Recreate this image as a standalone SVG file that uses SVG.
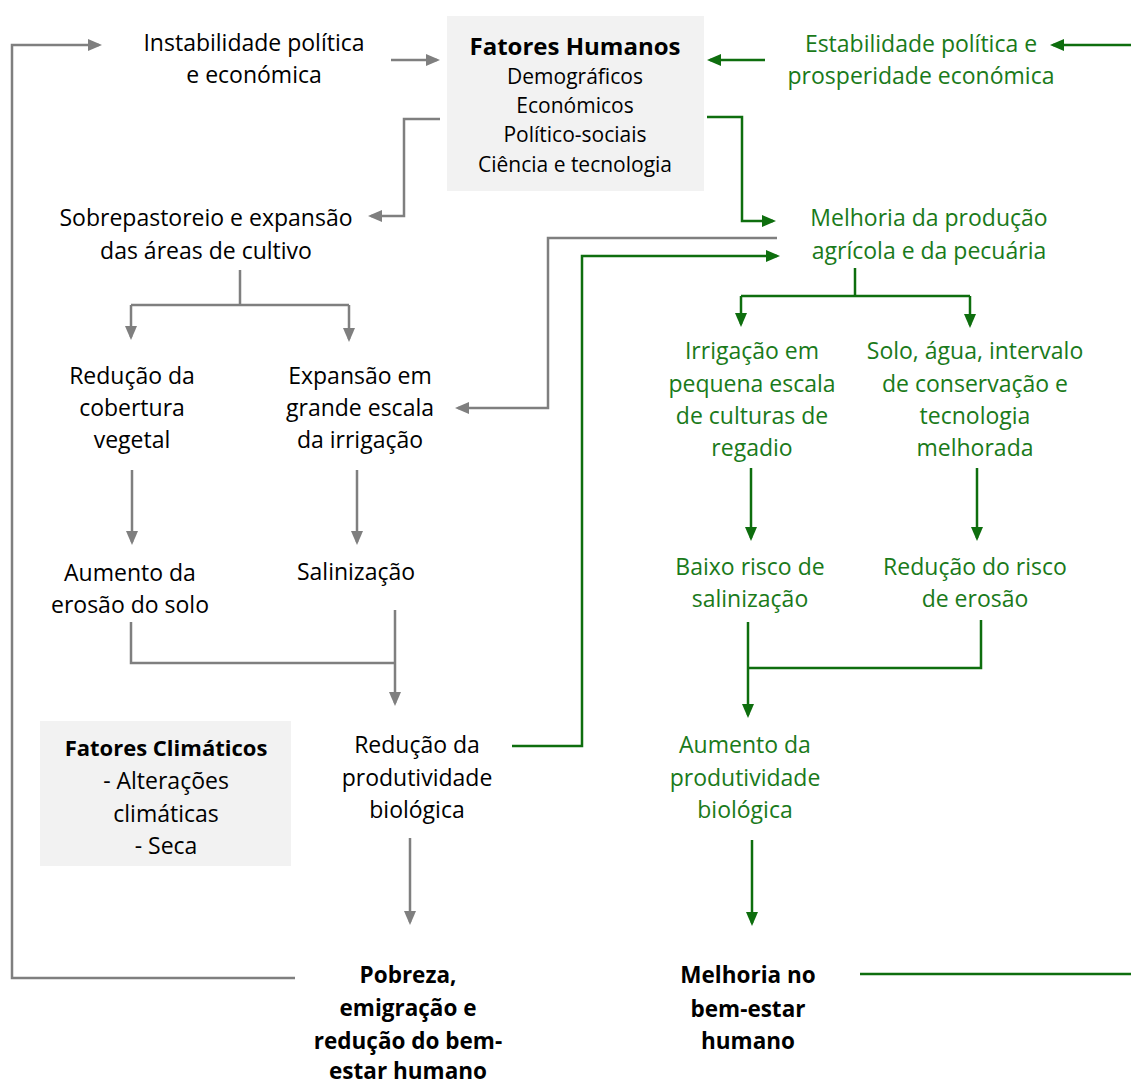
<svg xmlns="http://www.w3.org/2000/svg" width="1131" height="1081" viewBox="0 0 1131 1081">
<style>
text{font-family:"Open Sans","Liberation Sans",Arial,sans-serif;font-size:23px;text-anchor:middle;dominant-baseline:central}
.k{fill:#000}
.g{fill:#1a7a1a}
.b{font-weight:bold;font-size:22.5px}
.s{font-size:21px}
.t{font-size:24px}
.c{font-size:22px}
.gl{fill:none;stroke:#7f7f7f;stroke-width:2.5}
.gr{fill:none;stroke:#0e6e0e;stroke-width:2.5}
.box{fill:#f2f2f2}
</style>
<defs>
<marker id="ag" markerWidth="14" markerHeight="12" refX="11" refY="6" orient="auto" markerUnits="userSpaceOnUse"><path d="M0,0 L14,6 L0,12 z" fill="#7f7f7f"/></marker>
<marker id="an" markerWidth="14" markerHeight="12" refX="11" refY="6" orient="auto" markerUnits="userSpaceOnUse"><path d="M0,0 L14,6 L0,12 z" fill="#0e6e0e"/></marker>
</defs>
<g id="connectors">
<path class="gl" d="M295,978 H12 V45 H99" marker-end="url(#ag)"/>
<path class="gl" d="M391,60 H437" marker-end="url(#ag)"/>
<path class="gl" d="M440,119 H404 V216 H371" marker-end="url(#ag)"/>
<path class="gl" d="M777,238 H548 V408 H458" marker-end="url(#ag)"/>
<path class="gl" d="M240,270 V305"/>
<path class="gl" d="M131,305 H349"/>
<path class="gl" d="M131,305 V337" marker-end="url(#ag)"/>
<path class="gl" d="M349,305 V339" marker-end="url(#ag)"/>
<path class="gl" d="M132,470 V542" marker-end="url(#ag)"/>
<path class="gl" d="M357,470 V542" marker-end="url(#ag)"/>
<path class="gl" d="M131,622 V663 H395"/>
<path class="gl" d="M395,610 V703" marker-end="url(#ag)"/>
<path class="gl" d="M410,838 V922" marker-end="url(#ag)"/>
<path class="gr" d="M1131,45 H1053" marker-end="url(#an)"/>
<path class="gr" d="M765,60 H710" marker-end="url(#an)"/>
<path class="gr" d="M707,117 H742 V221 H773" marker-end="url(#an)"/>
<path class="gr" d="M512,746 H582 V256 H777" marker-end="url(#an)"/>
<path class="gr" d="M855,268 V296"/>
<path class="gr" d="M741,296 H970"/>
<path class="gr" d="M741,296 V324" marker-end="url(#an)"/>
<path class="gr" d="M970,296 V325" marker-end="url(#an)"/>
<path class="gr" d="M751,468 V538" marker-end="url(#an)"/>
<path class="gr" d="M977,468 V538" marker-end="url(#an)"/>
<path class="gr" d="M981,620 V668 H748"/>
<path class="gr" d="M748,622 V715" marker-end="url(#an)"/>
<path class="gr" d="M752,840 V923" marker-end="url(#an)"/>
<path class="gr" d="M860,974 H1131"/>
</g>
<g id="fatores-humanos">
<rect class="box" x="447" y="16" width="257" height="175"/>
<text class="k b t" x="575" y="45">Fatores Humanos</text>
<text class="k s" x="575" y="76">Demográficos</text>
<text class="k s" x="575" y="105">Económicos</text>
<text class="k s" x="575" y="134">Político-sociais</text>
<text class="k s" x="575" y="164">Ciência e tecnologia</text>
</g>
<g id="instabilidade">
<text class="k" x="254" y="42">Instabilidade política</text>
<text class="k" x="254" y="74">e económica</text>
</g>
<g id="estabilidade">
<text class="g" x="921" y="43">Estabilidade política e</text>
<text class="g" x="921" y="75">prosperidade económica</text>
</g>
<g id="sobrepastoreio">
<text class="k" x="206" y="217">Sobrepastoreio e expansão</text>
<text class="k" x="206" y="250">das áreas de cultivo</text>
</g>
<g id="melhoria-producao">
<text class="g" x="929" y="217">Melhoria da produção</text>
<text class="g" x="929" y="250">agrícola e da pecuária</text>
</g>
<g id="reducao-cobertura">
<text class="k" x="132" y="375">Redução da</text>
<text class="k" x="132" y="407">cobertura</text>
<text class="k" x="132" y="439">vegetal</text>
</g>
<g id="expansao-irrigacao">
<text class="k" x="360" y="375">Expansão em</text>
<text class="k" x="360" y="407">grande escala</text>
<text class="k" x="360" y="439">da irrigação</text>
</g>
<g id="irrigacao-pequena">
<text class="g" x="752" y="350">Irrigação em</text>
<text class="g" x="752" y="383">pequena escala</text>
<text class="g" x="752" y="415">de culturas de</text>
<text class="g" x="752" y="447">regadio</text>
</g>
<g id="solo-agua">
<text class="g" x="975" y="350">Solo, água, intervalo</text>
<text class="g" x="975" y="383">de conservação e</text>
<text class="g" x="975" y="415">tecnologia</text>
<text class="g" x="975" y="447">melhorada</text>
</g>
<g id="aumento-erosao">
<text class="k" x="130" y="572">Aumento da</text>
<text class="k" x="130" y="604">erosão do solo</text>
</g>
<g id="salinizacao">
<text class="k" x="356" y="571">Salinização</text>
</g>
<g id="baixo-risco">
<text class="g" x="750" y="566">Baixo risco de</text>
<text class="g" x="750" y="598">salinização</text>
</g>
<g id="reducao-risco">
<text class="g" x="975" y="566">Redução do risco</text>
<text class="g" x="975" y="598">de erosão</text>
</g>
<g id="fatores-climaticos">
<rect class="box" x="40" y="721" width="251" height="145"/>
<text class="k b c" x="166" y="747">Fatores Climáticos</text>
<text class="k" x="166" y="780">- Alterações</text>
<text class="k" x="166" y="813">climáticas</text>
<text class="k" x="166" y="845">- Seca</text>
</g>
<g id="reducao-produtividade">
<text class="k" x="417" y="744">Redução da</text>
<text class="k" x="417" y="777">produtividade</text>
<text class="k" x="417" y="809">biológica</text>
</g>
<g id="aumento-produtividade">
<text class="g" x="745" y="744">Aumento da</text>
<text class="g" x="745" y="777">produtividade</text>
<text class="g" x="745" y="809">biológica</text>
</g>
<g id="pobreza">
<text class="k b" x="408" y="974">Pobreza,</text>
<text class="k b" x="408" y="1007">emigração e</text>
<text class="k b" x="408" y="1040">redução do bem-</text>
<text class="k b" x="408" y="1070">estar humano</text>
</g>
<g id="melhoria-bem-estar">
<text class="k b" x="748" y="974">Melhoria no</text>
<text class="k b" x="748" y="1008">bem-estar</text>
<text class="k b" x="748" y="1040">humano</text>
</g>
</svg>
